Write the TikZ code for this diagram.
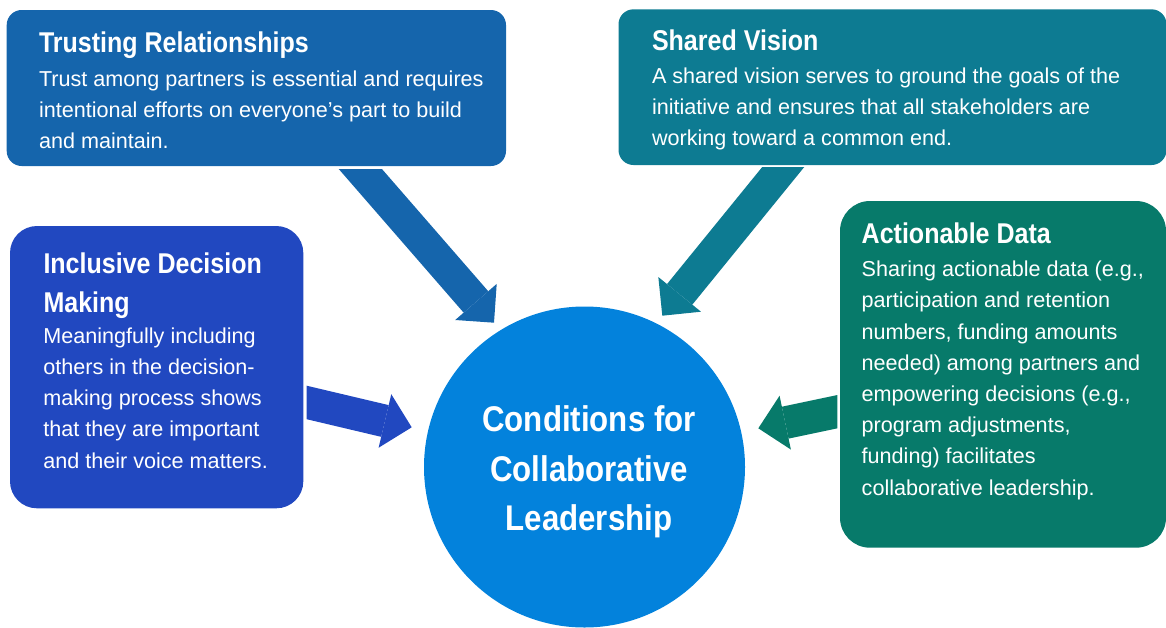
\documentclass[tikz,border=0pt]{standalone}
\usepackage{fontspec}
\setmainfont{Liberation Sans}
\newfontfamily\headfont{Liberation Sans}[FakeStretch=0.875]
\usetikzlibrary{arrows.meta}

\definecolor{trustblue}{HTML}{1565AC}
\definecolor{visionteal}{HTML}{0D7B92}
\definecolor{inclusiveblue}{HTML}{2148C0}
\definecolor{datagreen}{HTML}{077A6A}
\definecolor{corecircle}{HTML}{0382DC}

\tikzset{
  card/.style={rectangle, inner sep=0pt, outer sep=0pt, anchor=north west},
  cardtitle/.style={anchor=base west, inner sep=0pt, outer sep=0pt, text=white,
    font=\headfont\bfseries\fontsize{28.6}{39}\selectfont},
  cardbody/.style={anchor=base west, inner sep=0pt, outer sep=0pt, text=white,
    font=\fontsize{21.6}{31.2}\selectfont},
  blockarrow/.style={line width=32.6pt,
    -{Triangle[width=55pt,length=27.5pt,line width=0pt]}},
}

\begin{document}
\begin{tikzpicture}[x=1pt,y=-1pt]
\useasboundingbox (0,0) rectangle (1166,627);

% four condition cards
\node[card, fill=trustblue, rounded corners=15pt,
      minimum width=499.3pt, minimum height=156pt] (trust) at (6.7,10) {};
\node[card, fill=visionteal, rounded corners=15pt,
      minimum width=548pt, minimum height=155.7pt] (vision) at (618.5,9.3) {};
\node[card, fill=inclusiveblue, rounded corners=27pt,
      minimum width=293.3pt, minimum height=282.3pt] (inclusive) at (10,226) {};
\node[card, fill=datagreen, rounded corners=30pt,
      minimum width=326pt, minimum height=346.7pt] (data) at (840,201) {};

% central circle
\node[circle, fill=corecircle, minimum size=321pt, inner sep=0pt] (core) at (584.5,467) {};
\node[anchor=base, inner sep=0pt, text=white,
      font=\headfont\bfseries\fontsize{35.7}{49.5}\selectfont] (core-label) at (589,431.7)
  {\parbox[t]{320pt}{\centering Conditions for\\ Collaborative\\ Leadership}};

% card texts
\node[cardtitle] (trust-title) at (39,52.3) {Trusting Relationships};
\node[cardbody] (trust-body) at (39,86)
  {\parbox[t]{470pt}{Trust among partners is essential and requires\\
   intentional efforts on everyone’s part to build\\ and maintain.}};

\node[cardtitle] (vision-title) at (652,50) {Shared Vision};
\node[cardbody] (vision-body) at (652,83.5)
  {\parbox[t]{510pt}{A shared vision serves to ground the goals of the\\
   initiative and ensures that all stakeholders are\\ working toward a common end.}};

\node[anchor=base west, inner sep=0pt, text=white,
      font=\headfont\bfseries\fontsize{28.6}{39}\selectfont] (inclusive-title) at (43.3,273.3)
  {\parbox[t]{260pt}{Inclusive Decision\\ Making}};
\node[cardbody] (inclusive-body) at (43.3,343.3)
  {\parbox[t]{260pt}{Meaningfully including\\ others in the decision-\\
   making process shows\\ that they are important\\ and their voice matters.}};

\node[cardtitle] (data-title) at (861.7,243.3) {Actionable Data};
\node[cardbody] (data-body) at (861.7,276.7)
  {\parbox[t]{300pt}{Sharing actionable data (e.g.,\\ participation and retention\\
   numbers, funding amounts\\ needed) among partners and\\ empowering decisions (e.g.,\\
   program adjustments,\\ funding) facilitates\\ collaborative leadership.}};

% arrow end points
\coordinate (trust-from) at (347.2,153.9);
\coordinate (trust-to) at (494,322.7);
\coordinate (vision-from) at (795.6,151.8);
\coordinate (vision-to) at (662.3,315.7);
\coordinate (inclusive-from) at (292.1,399);
\coordinate (inclusive-to) at (411.7,427.3);
\coordinate (data-from) at (852,408.6);
\coordinate (data-to) at (758.3,428.3);

% block arrows, each cut square just off its card
\begin{scope}
  \clip (0,169) rectangle (1166,627);
  \draw[blockarrow, trustblue] (trust-from) -- (trust-to);
\end{scope}
\begin{scope}
  \clip (0,167.3) rectangle (1166,627);
  \draw[blockarrow, visionteal] (vision-from) -- (vision-to);
\end{scope}
\begin{scope}
  \clip (306.7,0) rectangle (1166,627);
  \draw[blockarrow, inclusiveblue] (inclusive-from) -- (inclusive-to);
\end{scope}
\begin{scope}
  \clip (0,0) rectangle (837.3,627);
  \draw[blockarrow, datagreen] (data-from) -- (data-to);
\end{scope}
\end{tikzpicture}
\end{document}
